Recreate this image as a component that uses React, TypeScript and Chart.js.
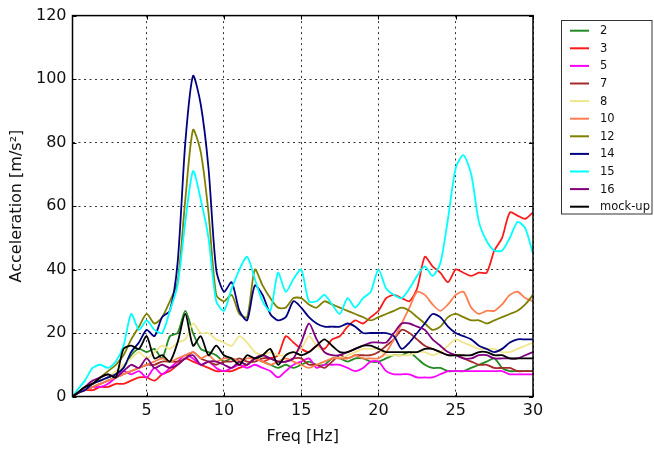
import React, { useEffect, useRef } from "react";
import { Chart, registerables } from "chart.js";

Chart.register(...registerables);

const freq = [0.2, 0.5, 1, 1.5, 2, 2.5, 3, 3.5, 4, 4.5, 5, 5.5, 6, 6.5, 7, 7.5, 8, 8.5, 9, 9.5, 10, 10.5, 11, 11.5, 12, 12.5, 13, 13.5, 14, 14.5, 15, 15.5, 16, 16.5, 17, 17.5, 18, 18.5, 19, 19.5, 20, 20.5, 21, 21.5, 22, 22.5, 23, 23.5, 24, 24.5, 25, 25.5, 26, 26.5, 27, 27.5, 28, 28.5, 29, 29.5, 30];

const s2 = [0, 1, 3, 4, 5, 6, 7, 9, 13, 15, 14, 15, 12, 19, 20, 27, 20, 15, 14, 13, 11, 12, 11, 10, 12, 11, 10, 9, 10, 9, 10, 11, 10, 10, 12, 12, 11, 12, 12, 11, 11, 12, 13, 13, 14, 12, 10, 9, 9, 8, 8, 8, 9, 10, 11, 12, 9, 8, 8, 8, 8];
const s3 = [0, 1, 2, 2, 3, 3, 4, 4, 5, 6, 6, 5, 7, 8, 10, 12, 11, 10, 9, 8, 8, 8, 9, 10, 12, 11, 12, 13, 19, 17, 15, 14, 16, 15, 18, 19, 22, 24, 23, 25, 27, 31, 32, 31, 30, 34, 44, 41, 39, 36, 40, 39, 38, 39, 39, 46, 50, 58, 57, 56, 58];
const s5 = [0, 1, 2, 3, 3, 4, 6, 8, 7, 8, 6, 9, 7, 9, 11, 13, 12, 10, 11, 9, 8, 9, 10, 9, 10, 9, 8, 6, 8, 10, 11, 12, 9, 10, 10, 10, 9, 8, 9, 11, 11, 8, 7, 7, 7, 6, 6, 6, 7, 8, 8, 8, 8, 8, 8, 8, 8, 7, 7, 7, 7];
const s7 = [0, 1, 2, 3, 4, 5, 6, 7, 8, 9, 10, 10, 11, 11, 11, 12, 14, 12, 11, 10, 11, 11, 12, 11, 11, 12, 12, 11, 11, 12, 12, 10, 10, 9, 11, 13, 12, 13, 13, 13, 14, 16, 18, 21, 20, 18, 16, 15, 14, 13, 13, 12, 11, 10, 10, 9, 9, 9, 8, 8, 8];
const s8 = [0, 1, 2, 4, 5, 6, 8, 10, 12, 14, 12, 14, 16, 15, 17, 18, 23, 20, 20, 18, 17, 16, 19, 17, 14, 13, 14, 13, 13, 14, 15, 19, 16, 14, 13, 12, 13, 14, 15, 15, 15, 13, 13, 13, 13, 14, 14, 13, 14, 16, 18, 17, 16, 15, 15, 15, 14, 14, 15, 16, 17];
const s10 = [0, 1, 2, 3, 4, 5, 6, 7, 8, 9, 10, 11, 12, 11, 12, 13, 14, 12, 13, 11, 12, 12, 11, 12, 12, 11, 10, 11, 12, 11, 10, 9, 10, 11, 12, 12, 12, 13, 12, 12, 12, 14, 18, 23, 28, 33, 32, 29, 27, 29, 32, 33, 28, 26, 27, 27, 29, 32, 33, 31, 30];
const s12 = [0, 1, 3, 4, 6, 8, 10, 13, 18, 22, 26, 23, 25, 30, 36, 62, 84, 77, 58, 32, 30, 32, 26, 25, 40, 35, 31, 28, 28, 31, 31, 29, 28, 30, 29, 28, 27, 26, 25, 24, 25, 26, 27, 28, 27, 25, 23, 21, 22, 25, 26, 25, 24, 24, 23, 24, 25, 26, 27, 29, 32];
const s14 = [0, 1, 2, 4, 5, 6, 7, 9, 14, 17, 21, 19, 25, 27, 42, 80, 101, 92, 72, 40, 33, 36, 27, 24, 35, 32, 26, 24, 25, 30, 28, 25, 23, 22, 22, 22, 23, 22, 20, 20, 20, 20, 19, 15, 17, 20, 23, 26, 25, 22, 20, 19, 18, 16, 15, 14, 15, 17, 18, 18, 18];
const s15 = [0, 2, 5, 9, 10, 9, 11, 16, 26, 21, 24, 21, 20, 27, 35, 55, 71, 62, 50, 30, 27, 34, 40, 44, 37, 30, 27, 39, 33, 37, 40, 30, 30, 32, 29, 26, 31, 28, 31, 33, 40, 34, 32, 31, 34, 38, 41, 38, 42, 56, 72, 76, 70, 55, 49, 46, 46, 50, 55, 53, 45];
const s16 = [0, 1, 3, 5, 6, 7, 6, 8, 10, 9, 12, 9, 10, 9, 10, 12, 13, 10, 11, 11, 10, 9, 11, 10, 12, 13, 12, 11, 11, 12, 17, 23, 18, 14, 13, 13, 14, 15, 16, 17, 17, 17, 20, 23, 23, 22, 21, 18, 16, 14, 13, 12, 12, 13, 13, 12, 12, 12, 12, 13, 14];
const mockup = [0, 1, 3, 4, 6, 7, 6, 15, 16, 15, 19, 12, 13, 11, 17, 26, 16, 19, 13, 16, 13, 12, 10, 13, 12, 13, 15, 10, 13, 14, 13, 14, 16, 18, 16, 14, 14, 15, 16, 16, 15, 14, 14, 14, 14, 14, 15, 15, 14, 13, 13, 13, 13, 14, 14, 13, 13, 12, 12, 12, 12];

const seriesLabels = ["2", "3", "5", "7", "8", "10", "12", "14", "15", "16", "mock-up"];
const seriesValues = [s2, s3, s5, s7, s8, s10, s12, s14, s15, s16, mockup];
const seriesColors = ["#228b22", "#ff1a1a", "#ff00ff", "#a52a2a", "#f0e68c", "#ff7f50", "#808000", "#000080", "#00ffff", "#800080", "#000000"];

const xTickValues = [5, 10, 15, 20, 25, 30];

const FONT = "'DejaVu Sans', sans-serif";

const framePlugin = {
  id: "frameLegend",
  afterDraw(chart: any) {
    const { ctx, chartArea } = chart;
    const { left, right, top, bottom } = chartArea;
    ctx.save();
    ctx.strokeStyle = "#000";
    ctx.lineWidth = 1;
    const xs = chart.scales.x;
    const ys = chart.scales.y;
    xTickValues.forEach((v) => {
      const px = Math.round(xs.getPixelForValue(v)) + 0.5;
      ctx.beginPath();
      ctx.moveTo(px, bottom);
      ctx.lineTo(px, bottom - 4);
      ctx.moveTo(px, top);
      ctx.lineTo(px, top + 4);
      ctx.stroke();
    });
    ys.ticks.forEach((t: any) => {
      const py = Math.round(ys.getPixelForValue(t.value)) + 0.5;
      ctx.beginPath();
      ctx.moveTo(left, py);
      ctx.lineTo(left + 4, py);
      ctx.moveTo(right, py);
      ctx.lineTo(right - 4, py);
      ctx.stroke();
    });
    ctx.lineWidth = 1.5;
    ctx.strokeStyle = "#000";
    ctx.strokeRect(left, top, right - left, bottom - top);
    const bx = 561.5, by = 20.5, bw = 90.5, bh = 193.5;
    ctx.fillStyle = "#fff";
    ctx.fillRect(bx, by, bw, bh);
    ctx.lineWidth = 1;
    ctx.strokeStyle = "#333";
    ctx.strokeRect(bx, by, bw, bh);
    ctx.font = "11.5px " + FONT;
    ctx.textBaseline = "middle";
    ctx.textAlign = "left";
    chart.data.datasets.forEach((ds: any, i: number) => {
      const y = 30.7 + i * 17.6;
      ctx.strokeStyle = ds.borderColor;
      ctx.lineWidth = 2;
      ctx.beginPath();
      ctx.moveTo(570, y);
      ctx.lineTo(589, y);
      ctx.stroke();
      ctx.fillStyle = "#111";
      ctx.fillText(ds.label, 600, y + 0.5);
    });
    ctx.restore();
  },
};

export default function App() {
  const ref = useRef<HTMLCanvasElement | null>(null);
  useEffect(() => {
    if (!ref.current) return;
    const datasets = seriesLabels.map((label, i) => ({
      label,
      data: freq.map((f, j) => ({ x: f, y: seriesValues[i][j] })),
      borderColor: seriesColors[i],
      backgroundColor: seriesColors[i],
      borderWidth: 1.8,
      pointRadius: 0,
      tension: 0.25,
      fill: false,
      order: seriesLabels.length - i,
    }));
    const chart = new Chart(ref.current, {
      type: "line",
      data: { datasets },
      options: {
        animation: false,
        responsive: false,
        layout: { padding: { top: 14.5, right: 121, bottom: 0, left: 0 } },
        plugins: { legend: { display: false }, tooltip: { enabled: false } },
        scales: {
          x: {
            type: "linear",
            min: 0.2,
            max: 30,
            afterBuildTicks: (s: any) => {
              s.ticks = xTickValues.map((v) => ({ value: v }));
            },
            afterFit: (s: any) => {
              s.height = 52.5;
            },
            grid: { color: "#333", lineWidth: 1, drawTicks: false } as any,
            border: { display: false, dash: [2, 3.5] } as any,
            ticks: {
              padding: 5,
              color: "#111",
              font: { family: FONT, size: 16 },
              maxRotation: 0,
              autoSkip: false,
              callback: (v: any) => String(v),
            },
            title: {
              display: true,
              text: "Freq [Hz]",
              color: "#111",
              font: { family: FONT, size: 16 },
              padding: { top: 0, bottom: 2.4 },
            },
          },
          y: {
            min: 0,
            max: 120,
            afterFit: (s: any) => {
              s.width = 72.5;
            },
            grid: { color: "#333", lineWidth: 1, drawTicks: false } as any,
            border: { display: false, dash: [2, 3.5] } as any,
            ticks: {
              stepSize: 20,
              padding: 6,
              color: "#111",
              font: { family: FONT, size: 16 },
            },
            title: {
              display: true,
              text: "Acceleration [m/s²]",
              color: "#111",
              font: { family: FONT, size: 16 },
              padding: { top: 7.4, bottom: 0 },
            },
          },
        },
      },
      plugins: [framePlugin],
    });
    return () => chart.destroy();
  }, []);
  return (
    <canvas
      ref={ref}
      width={654}
      height={449}
      style={{ position: "fixed", left: 0, top: 0, width: 654, height: 449, background: "#fff" }}
    />
  );
}
